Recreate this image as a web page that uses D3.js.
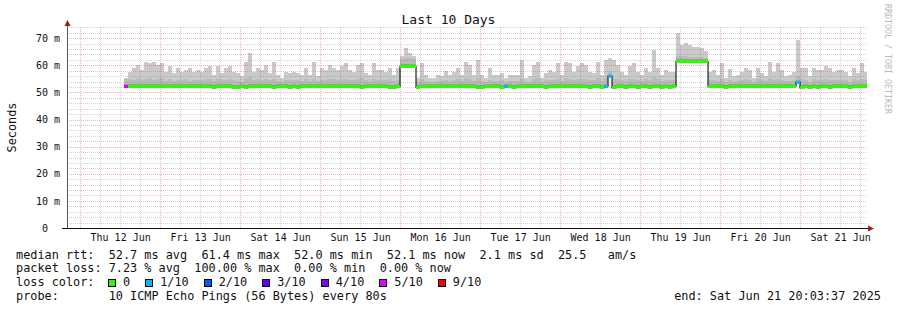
<!DOCTYPE html>
<html>
<head>
<meta charset="utf-8">
<script src="https://cdn.jsdelivr.net/npm/d3@7"></script>
<style>
html, body { margin: 0; padding: 0; background: #fff; }
svg { display: block; font-family: "DejaVu Sans Mono", monospace; }
text { white-space: pre; }
</style>
</head>
<body>
<div id="chart"></div>
<script>
// time window of the graph and the sampling of the consolidated data
const rangeStart = new Date(2025, 5, 11, 20, 3, 37);
const rangeEnd = new Date(2025, 5, 21, 20, 3, 37);
const dataStart = new Date(2025, 5, 12, 13, 10, 0);
const stepMinutes = 72;

// slowest ping of each step (top of the smoke), ms
const smokeTop = [
  55.3, 57.7, 58.9, 60.2, 58.3, 61.4, 60.8, 61.4, 60.2, 60.8,
  57.7, 59.6, 57.1, 58.9, 57.7, 58.3, 58.9, 57.7, 58.3, 57.7,
  58.9, 59.6, 56.5, 59.6, 57.1, 58.9, 59.6, 57.7, 57.1, 55.9,
  61.4, 64.5, 57.7, 58.9, 58.3, 60.2, 57.1, 61.4, 56.5, 55.3,
  57.7, 57.1, 57.7, 57.3, 56.5, 59.1, 56.5, 61.4, 55.9, 58.9,
  58.3, 60.2, 58.9, 58.3, 59.6, 60.8, 58.3, 57.7, 60.0, 60.8,
  57.1, 56.5, 60.8, 58.3, 58.3, 57.7, 58.9, 56.5, 58.9, 63.3,
  66.3, 64.5, 63.3, 55.3, 60.8, 56.5, 55.3, 55.3, 56.5, 55.9,
  57.9, 56.5, 57.7, 58.9, 56.5, 61.2, 60.2, 56.5, 62.0, 56.5,
  55.3, 58.9, 56.5, 56.5, 57.1, 55.3, 56.5, 56.5, 56.5, 62.0,
  55.3, 55.9, 60.2, 61.4, 55.3, 57.1, 58.3, 57.7, 60.8, 56.5,
  61.4, 60.8, 57.7, 59.6, 60.8, 60.2, 57.7, 57.1, 61.4, 56.5,
  62.0, 62.6, 62.0, 60.2, 57.7, 56.5, 59.6, 60.8, 57.7, 56.5,
  58.9, 57.7, 65.7, 58.9, 56.5, 58.3, 57.7, 57.7, 71.8, 67.5,
  68.1, 67.5, 66.9, 66.9, 66.3, 65.1, 57.7, 58.3, 56.5, 60.8,
  55.3, 58.7, 55.9, 56.5, 57.7, 58.9, 58.3, 55.3, 58.9, 57.1,
  55.9, 61.4, 57.7, 60.8, 58.3, 55.9, 56.5, 57.7, 69.5, 58.9,
  58.9, 55.9, 58.9, 58.3, 58.3, 59.6, 58.9, 57.7, 58.3, 58.3,
  57.7, 55.9, 58.9, 57.1, 60.8, 57.7
];

// upper edge of the dense inner smoke, ms
const smokeInner = [
  54.8, 55.0, 54.6, 55.2, 54.4, 54.9, 55.3, 54.7, 55.0, 55.4,
  54.3, 54.8, 54.2, 54.6, 54.5, 54.9, 54.3, 54.7, 54.4, 54.5,
  54.8, 55.0, 54.2, 54.9, 54.4, 54.7, 55.1, 54.5, 54.3, 54.0,
  55.2, 55.8, 54.6, 54.8, 54.5, 55.0, 54.4, 55.1, 54.2, 54.0,
  54.6, 54.5, 54.7, 54.4, 54.2, 54.9, 54.3, 55.1, 54.1, 54.7,
  54.6, 55.0, 54.8, 54.5, 54.9, 55.1, 54.6, 54.4, 55.0, 55.2,
  54.5, 54.2, 55.0, 54.6, 54.7, 54.4, 54.8, 54.2, 54.6, 62.4,
  62.8, 62.6, 62.2, 53.8, 54.9, 54.2, 53.9, 54.0, 54.3, 54.1,
  54.6, 54.3, 54.5, 54.8, 54.2, 55.2, 55.0, 54.3, 55.3, 54.2,
  53.9, 54.7, 54.3, 54.2, 54.4, 53.9, 54.2, 54.3, 54.3, 55.1,
  53.9, 54.0, 55.0, 55.3, 53.9, 54.5, 54.7, 54.6, 55.0, 54.2,
  55.2, 55.0, 54.5, 54.9, 55.1, 55.0, 54.5, 54.4, 55.2, 54.2,
  55.3, 58.0, 55.0, 54.8, 54.5, 54.2, 54.9, 55.0, 54.5, 54.2,
  54.8, 54.5, 55.6, 54.8, 54.2, 54.6, 54.5, 54.4, 63.6, 63.4,
  63.5, 63.2, 63.1, 63.0, 62.9, 62.7, 54.6, 54.7, 54.3, 55.0,
  53.9, 54.7, 54.0, 54.2, 54.5, 54.8, 54.6, 53.9, 54.8, 54.4,
  54.1, 55.2, 54.5, 55.0, 54.6, 54.1, 54.2, 54.5, 56.0, 54.8,
  54.7, 54.0, 54.8, 54.6, 54.6, 54.9, 54.7, 54.5, 54.6, 54.6,
  54.5, 54.0, 54.8, 54.4, 55.0, 54.5
];

// median rtt, ms
const median = [
  52.2, 52.2, 52.2, 52.2, 52.2, 52.2, 52.2, 52.2, 52.2, 52.2,
  52.2, 52.2, 52.2, 52.2, 52.2, 52.2, 52.2, 52.2, 52.2, 52.2,
  52.2, 52.2, 51.7, 52.2, 52.2, 52.2, 52.2, 51.7, 51.7, 52.2,
  51.7, 52.2, 52.2, 52.2, 52.2, 52.2, 52.2, 51.7, 52.2, 52.2,
  52.2, 51.7, 52.2, 51.7, 52.2, 52.2, 52.2, 52.2, 52.2, 52.2,
  52.2, 52.2, 52.2, 52.2, 52.2, 52.2, 52.2, 52.2, 52.2, 51.7,
  52.2, 52.2, 52.2, 52.2, 52.2, 52.2, 51.7, 51.7, 52.2, 59.6,
  59.6, 59.6, 59.6, 51.9, 52.2, 52.2, 52.2, 52.2, 52.2, 52.2,
  52.2, 52.2, 52.2, 52.2, 52.2, 52.2, 52.2, 52.2, 51.7, 51.7,
  52.2, 52.2, 52.2, 52.2, 51.7, 52.2, 52.2, 51.7, 52.2, 52.2,
  52.2, 52.2, 52.2, 52.2, 52.2, 51.7, 52.2, 52.2, 52.2, 52.2,
  52.2, 52.2, 52.2, 52.2, 52.2, 52.2, 51.7, 52.2, 52.2, 51.7,
  52.2, 56.0, 51.7, 52.2, 52.2, 51.7, 52.2, 52.2, 51.7, 52.2,
  52.2, 51.7, 52.2, 52.2, 51.7, 52.2, 51.7, 52.2, 61.4, 61.4,
  61.4, 61.4, 61.4, 61.4, 61.4, 61.4, 52.2, 52.2, 52.2, 52.2,
  51.7, 52.2, 52.2, 52.2, 52.2, 52.2, 52.2, 52.2, 52.2, 52.2,
  52.2, 52.2, 52.2, 52.2, 52.2, 52.2, 52.2, 52.2, 53.8, 51.7,
  52.2, 51.7, 52.2, 51.7, 52.2, 52.2, 51.7, 52.2, 52.2, 52.2,
  52.2, 51.7, 52.2, 52.2, 52.2, 52.2
];

// steps that lost pings, and how many of 10
const lossAt = [0, 95, 120, 121, 168];
const lossTenths = [5, 1, 1, 1, 1];

// loss colour legend
const lossLevels = [0, 1, 2, 3, 4, 5, 9];
const lossLabels = ["0", "1/10", "2/10", "3/10", "4/10", "5/10", "9/10"];
const lossColors = ["#26ff00", "#00b8ff", "#0059ff", "#5e00ff", "#7e00ff", "#dd00ff", "#ff0000"];

const yTicks = [0, 10, 20, 30, 40, 50, 60, 70];

const legendLines = [
  "median rtt:  52.7 ms avg  61.4 ms max  52.0 ms min  52.1 ms now  2.1 ms sd  25.5   am/s",
  "packet loss: 7.23 % avg  100.00 % max  0.00 % min  0.00 % now",
  "loss color:",
  "probe:       10 ICMP Echo Pings (56 Bytes) every 80s"
];
const endLabel = "end: Sat Jun 21 20:03:37 2025";

const width = 897, height = 310;

const svg = d3.select("#chart").append("svg")
  .attr("width", width)
  .attr("height", height);

svg.append("rect").attr("width", width).attr("height", height).attr("fill", "#fff");

const x = d3.scaleTime().domain([rangeStart, rangeEnd]).range([67, 867]);
const y = d3.scaleLinear().domain([0, 74.5]).range([228, 26]);
const color = d3.scaleOrdinal().domain(lossLevels).range(lossColors);

const [x0, x1] = x.range();
const [yb, yt] = y.range();

svg.append("clipPath").attr("id", "plot")
  .append("rect").attr("x", x0).attr("y", yt).attr("width", x1 - x0).attr("height", yb - yt);

const n = Math.min(smokeTop.length, smokeInner.length, median.length);
const samples = d3.range(n).map(i => {
  const t = d3.timeMinute.offset(dataStart, i * stepMinutes);
  return { t, t1: d3.timeMinute.offset(t, stepMinutes), top: smokeTop[i], inner: smokeInner[i], med: median[i], loss: 0 };
});
lossAt.forEach((k, j) => { if (samples[k]) samples[k].loss = lossTenths[j]; });

const plot = svg.append("g").attr("clip-path", "url(#plot)").attr("shape-rendering", "crispEdges");

// smoke: light outer layer, denser inner layer, darkest just above median
function smoke(cls, fill, topOf) {
  plot.append("g").selectAll("rect." + cls)
    .data(samples)
    .join("rect")
    .attr("class", cls)
    .attr("x", d => Math.round(x(d.t)))
    .attr("width", d => Math.round(x(d.t1)) - Math.round(x(d.t)))
    .attr("y", d => y(topOf(d)))
    .attr("height", d => y(d.med) - y(topOf(d)))
    .attr("fill", fill);
}
smoke("outer", "#cacaca", d => d.top);
smoke("inner", "#bababa", d => d.inner);
smoke("core", "#9c9c9c", d => d.med + 0.9);

// grid lines (drawn over the smoke like rrdtool does)
const grid = svg.append("g").attr("shape-rendering", "crispEdges").attr("stroke-dasharray", "1,1");
const px = v => Math.round(v) + 0.5;

const minorH = d3.range(2, 75, 2).filter(v => v % 10 !== 0);
const majorH = yTicks.filter(v => v > 0);
const minorV = d3.timeHour.every(6).range(rangeStart, rangeEnd).filter(d => d.getHours() !== 0);
const majorV = d3.timeDay.range(rangeStart, rangeEnd);

grid.selectAll("line.mh").data(minorH).join("line").attr("class", "mh")
  .attr("x1", x0).attr("x2", x1).attr("y1", d => px(y(d))).attr("y2", d => px(y(d)))
  .attr("stroke", "rgba(110,110,110,0.3)");
grid.selectAll("line.mv").data(minorV).join("line").attr("class", "mv")
  .attr("y1", yb).attr("y2", yt).attr("x1", d => px(x(d))).attr("x2", d => px(x(d)))
  .attr("stroke", "rgba(110,110,110,0.3)");
grid.selectAll("line.Mh").data(majorH).join("line").attr("class", "Mh")
  .attr("x1", x0).attr("x2", x1).attr("y1", d => px(y(d))).attr("y2", d => px(y(d)))
  .attr("stroke", "rgba(215,50,50,0.38)");
grid.selectAll("line.Mv").data(majorV).join("line").attr("class", "Mv")
  .attr("y1", yb).attr("y2", yt).attr("x1", d => px(x(d))).attr("x2", d => px(x(d)))
  .attr("stroke", "rgba(215,50,50,0.38)");

// median: dark step line underneath, loss-coloured band on top
const medLine = d3.line()
  .x(d => x(d.t))
  .y(d => y(d.med))
  .curve(d3.curveStepAfter);
const last = samples[samples.length - 1];
const medGroup = svg.append("g").attr("clip-path", "url(#plot)");
medGroup.append("path")
  .datum(samples.concat([{ t: last.t1, med: last.med }]))
  .attr("d", medLine)
  .attr("fill", "none")
  .attr("stroke", "#202020")
  .attr("stroke-width", 1.2);
medGroup.append("g").attr("shape-rendering", "crispEdges")
  .selectAll("rect")
  .data(samples)
  .join("rect")
  .attr("x", d => Math.round(x(d.t)))
  .attr("width", d => Math.round(x(d.t1)) - Math.round(x(d.t)))
  .attr("y", d => Math.round(y(d.med) - 1.5))
  .attr("height", 3)
  .attr("fill", d => color(d.loss));

// axes
const axes = svg.append("g").attr("shape-rendering", "crispEdges");
axes.append("line")
  .attr("x1", x0 + 0.5).attr("x2", x0 + 0.5).attr("y1", yb).attr("y2", yt - 3)
  .attr("stroke", "#555");
axes.append("line")
  .attr("x1", x0 - 5).attr("x2", x1 + 2).attr("y1", yb + 0.5).attr("y2", yb + 0.5)
  .attr("stroke", "#111").attr("stroke-width", 1.5);
svg.append("path")
  .attr("d", `M${x0 - 2.5},${yt} L${x0 + 3.5},${yt} L${x0 + 0.5},${yt - 6} Z`)
  .attr("fill", "#9b1c1c");
svg.append("path")
  .attr("d", `M${x1 + 1},${yb - 2.5} L${x1 + 1},${yb + 3.5} L${x1 + 7},${yb + 0.5} Z`)
  .attr("fill", "#9b1c1c");

const yAxis = svg.append("g")
  .attr("transform", `translate(${x0},0)`)
  .call(d3.axisLeft(y).tickValues(yTicks).tickSize(0).tickPadding(7)
    .tickFormat(d => d === 0 ? "0  " : `${d} m`));
yAxis.select(".domain").remove();
yAxis.selectAll("text")
  .attr("font-family", "DejaVu Sans Mono, monospace")
  .attr("font-size", 10)
  .attr("fill", "#111");

const noons = d3.timeDay.range(rangeStart, rangeEnd).map(d => d3.timeHour.offset(d, 12)).filter(d => d < rangeEnd);
const xAxis = svg.append("g")
  .attr("transform", `translate(0,${yb})`)
  .call(d3.axisBottom(x).tickValues(noons).tickSize(0).tickPadding(6)
    .tickFormat(d3.timeFormat("%a %d %b")));
xAxis.select(".domain").remove();
xAxis.selectAll("text")
  .attr("font-family", "DejaVu Sans Mono, monospace")
  .attr("font-size", 10)
  .attr("fill", "#111");

// titles
svg.append("text")
  .attr("x", width / 2).attr("y", 24)
  .attr("text-anchor", "middle")
  .attr("font-size", 13)
  .attr("fill", "#111")
  .text("Last 10 Days");

svg.append("text")
  .attr("transform", `translate(15.5,${(yb + yt) / 2 + 0.5}) rotate(-90)`)
  .attr("text-anchor", "middle")
  .attr("font-size", 11.85)
  .attr("fill", "#111")
  .text("Seconds");

svg.append("text")
  .attr("transform", "translate(885,4) rotate(90)")
  .attr("font-size", 8.3)
  .attr("fill", "#bbb")
  .text("RRDTOOL / TOBI OETIKER");

// legend
const legendY = [258.5, 272.3, 286.1, 300];
const legend = svg.append("g").attr("font-size", 11.85).attr("fill", "#111");
legend.selectAll("text.line")
  .data(legendLines)
  .join("text")
  .attr("class", "line")
  .attr("x", 16)
  .attr("y", (d, i) => legendY[i])
  .text(d => d);

legend.append("text")
  .attr("x", 881).attr("y", legendY[3])
  .attr("text-anchor", "end")
  .text(endLabel);

let bx = 108;
lossLabels.forEach((lab, i) => {
  legend.append("rect")
    .attr("x", bx + 0.5).attr("y", legendY[2] - 6.6)
    .attr("width", 7).attr("height", 7)
    .attr("fill", lossColors[i])
    .attr("stroke", "#000")
    .attr("stroke-width", 1)
    .attr("shape-rendering", "crispEdges");
  const t = legend.append("text")
    .attr("x", bx + 15).attr("y", legendY[2])
    .text(lab);
  bx = bx + 15 + t.node().getComputedTextLength() + 15;
});
</script>
</body>
</html>
